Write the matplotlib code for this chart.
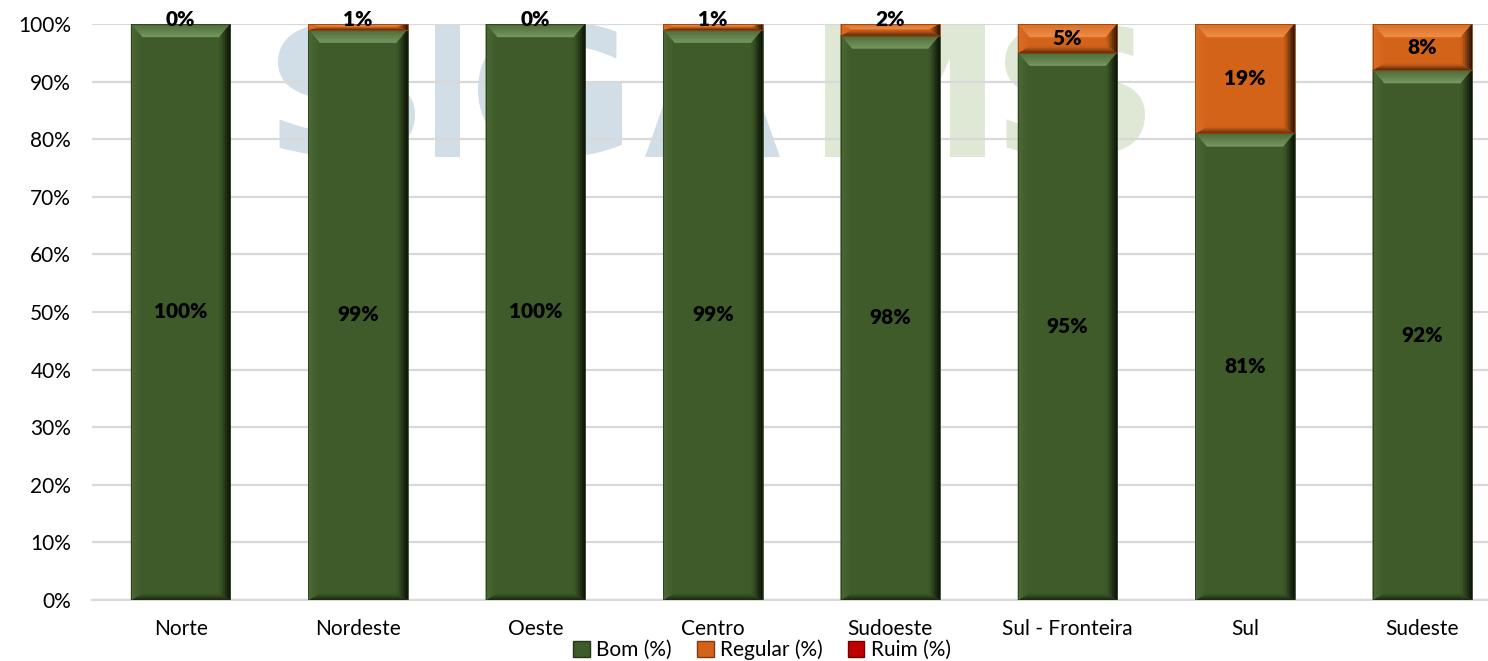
import numpy as np
import matplotlib.pyplot as plt
from matplotlib.patches import Polygon, PathPatch, Patch
from matplotlib.textpath import TextPath
from matplotlib.font_manager import FontProperties
from matplotlib.transforms import Affine2D
from matplotlib.colors import to_rgb

plt.rcParams['font.family'] = ['Lato', 'DejaVu Sans']

regioes = ['Norte', 'Nordeste', 'Oeste', 'Centro', 'Sudoeste', 'Sul - Fronteira', 'Sul', 'Sudeste']
bom = np.array([100, 99, 100, 99, 98, 95, 81, 92])
regular = np.array([0, 1, 0, 1, 2, 5, 19, 8])
ruim = np.array([0, 0, 0, 0, 0, 0, 0, 0])
yticks = [0, 10, 20, 30, 40, 50, 60, 70, 80, 90, 100]

verde = '#3e5b29'
laranja = '#d4631a'
vermelho = '#c00000'
# tons claros usados no chanfro superior
claros = {verde: '#9cc184', laranja: '#ffab68', vermelho: '#ff6060'}

W, H = 1488, 661
fig = plt.figure(figsize=(W / 100, H / 100), dpi=100)
ax = fig.add_axes([92 / W, 61 / H, (W - 92) / W, (600 - 24) / H])

x = np.arange(len(regioes))
largura = 0.56
xlim = (-0.5, 7.37)
ax.set_xlim(*xlim)
ax.set_ylim(0, 100)

# marca d'agua ao fundo, letra a letra (pixels com origem no topo)
px2fig = Affine2D().scale(1 / W, -1 / H).translate(0, 1) + fig.transFigure
fonte_marca = FontProperties(family='DejaVu Sans', weight='bold')


def letra(ch, x0, x1, cor, y0=22, y1=157):
    tp = TextPath((0, 0), ch, size=100, prop=fonte_marca)
    ext = tp.get_extents()
    t = (Affine2D().translate(-ext.x0, -ext.y0)
         .scale((x1 - x0) / ext.width, -(y1 - y0) / ext.height)
         .translate(x0, y1))
    ax.add_patch(PathPatch(tp, transform=t + px2fig, facecolor=cor, edgecolor='none', zorder=0.1))


azul_marca = '#d1dde7'
verde_marca = '#dee8d4'
letra('S', 278, 415, azul_marca)
letra('I', 435, 460, azul_marca)
letra('G', 478, 622, azul_marca)
letra('A', 645, 780, azul_marca)
letra('M', 825, 985, verde_marca)
letra('S', 1005, 1145, verde_marca)

ax.set_axisbelow(True)
ax.yaxis.grid(True, color='#d9d9d9', linewidth=1.6)
for s in ['top', 'right', 'left']:
    ax.spines[s].set_visible(False)
ax.spines['bottom'].set_color('#d9d9d9')
ax.spines['bottom'].set_linewidth(1.6)

c1 = ax.bar(x, bom, width=largura, color=verde, zorder=2)
c2 = ax.bar(x, regular, bottom=bom, width=largura, color=laranja, zorder=2)
c3 = ax.bar(x, ruim, bottom=bom + regular, width=largura, color=vermelho, zorder=2)

# efeito de chanfro nas barras
ax_w = ax.get_position().width * W
ax_h = ax.get_position().height * H
dx = 11 * (xlim[1] - xlim[0]) / ax_w
dy = 13 * 100 / ax_h


def mistura(c, alvo, f):
    c = np.array(to_rgb(c))
    return tuple(c + (np.array(to_rgb(alvo)) - c) * f)


def chanfro(p, base):
    x0, y0, w, h = p.get_x(), p.get_y(), p.get_width(), p.get_height()
    if h <= 0:
        return
    x1, y1 = x0 + w, y0 + h
    by = min(dy, h / 2)
    bb = min(dy * 0.5, h / 2)
    claro = claros[base]
    lados = [
        # (borda externa, borda interna, cor externa, cor interna)
        ([(x0, y1), (x1, y1)], [(x0 + dx, y1 - by), (x1 - dx, y1 - by)],
         mistura(base, claro, 0.15), mistura(base, claro, 0.6)),
        ([(x1, y1), (x1, y0)], [(x1 - dx, y1 - by), (x1 - dx, y0 + bb)],
         mistura(base, 'black', 0.85), base),
        ([(x1, y0), (x0, y0)], [(x1 - dx, y0 + bb), (x0 + dx, y0 + bb)],
         mistura(base, 'black', 0.6), base),
        ([(x0, y0), (x0, y1)], [(x0 + dx, y0 + bb), (x0 + dx, y1 - by)],
         mistura(base, claro, 0.15), base),
    ]
    n = 6
    for ext, inn, ce, ci in lados:
        ext = np.array(ext)
        inn = np.array(inn)
        for k in range(n):
            a, b = k / n, (k + 1) / n
            pa = ext + (inn - ext) * a
            pb = ext + (inn - ext) * b
            poly = [pa[0], pa[1], pb[1], pb[0]]
            cor = mistura(ce, ci, (a + b) / 2)
            ax.add_patch(Polygon(poly, closed=True, facecolor=cor, edgecolor=cor,
                                 linewidth=0.3, zorder=3))
    ax.add_patch(Polygon([(x0, y0), (x1, y0), (x1, y1), (x0, y1)], closed=True,
                         facecolor='none', edgecolor=mistura(base, 'black', 0.3),
                         linewidth=0.6, zorder=3))


for cont, base in [(c1, verde), (c2, laranja), (c3, vermelho)]:
    for p in cont:
        chanfro(p, base)

ax.bar_label(c1, labels=[f'{v}%' for v in bom], label_type='center',
             fontsize=15, fontweight='heavy', color='black', zorder=5)
rot_reg = ax.bar_label(c2, labels=[f'{v}%' for v in regular], label_type='center',
                       fontsize=15, fontweight='heavy', color='black', zorder=5)

# rotulos de segmentos muito finos ficam acima do topo
px_por_pct = ax_h / 100
for t, v in zip(rot_reg, regular):
    if v < 3:
        sobe = 5 + v * px_por_pct / 2
        t.xyann = (0, sobe * 0.72)

ax.set_xticks(x)
ax.set_xticklabels(regioes, fontsize=15)
ax.set_yticks(yticks)
ax.set_yticklabels([f'{v}%' for v in yticks], fontsize=15)
ax.tick_params(length=0)
ax.tick_params(axis='x', pad=14)
ax.tick_params(axis='y', pad=15)

handles = [Patch(facecolor=verde, edgecolor=mistura(verde, 'black', 0.4)),
           Patch(facecolor=laranja, edgecolor=mistura(laranja, 'black', 0.4)),
           Patch(facecolor=vermelho, edgecolor=mistura(vermelho, 'black', 0.4))]
fig.legend(handles, ['Bom (%)', 'Regular (%)', 'Ruim (%)'], loc='center',
           bbox_to_anchor=(762 / W, 1 - 650 / H), ncol=3, frameon=False,
           fontsize=15, handlelength=0.8, handleheight=0.8, handletextpad=0.3,
           columnspacing=1.2, borderpad=0)

fig.savefig('out.png', dpi=100)
